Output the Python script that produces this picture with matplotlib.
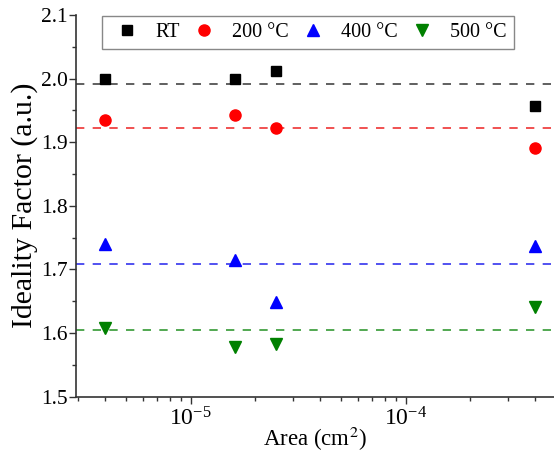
import matplotlib
matplotlib.use("Agg")
import matplotlib.pyplot as plt
from matplotlib.ticker import LogLocator, MultipleLocator, NullFormatter

plt.rcParams['font.family'] = ['Liberation Serif', 'DejaVu Serif']
plt.rcParams['mathtext.fontset'] = 'stix'

area = [4e-6, 1.6e-5, 2.5e-5, 4e-4]
labels = ['RT', '200 °C', '400 °C', '500 °C']
ideality = [
    [2.000, 2.000, 2.012, 1.957],
    [1.935, 1.942, 1.922, 1.891],
    [1.740, 1.714, 1.648, 1.737],
    [1.607, 1.578, 1.583, 1.640],
]
mean_lines = [1.992, 1.922, 1.709, 1.604]

colors = ['black', 'red', 'blue', 'green']
line_colors = ['#444444', '#ee3333', '#3333ee', '#339933']
markers = ['s', 'o', '^', 'v']
sizes = [7, 8, 9, 9]

fig = plt.figure(figsize=(5.54, 4.54), dpi=100)
ax = fig.add_axes([76 / 554, 1 - 396.5 / 454, 1 - 76 / 554, (396.5 - 15) / 454])

for i in range(4):
    ax.axhline(mean_lines[i], color=line_colors[i], ls=(0, (5, 5)), lw=1.2, zorder=1)
    ax.plot(area, ideality[i], ls='none', marker=markers[i], ms=sizes[i],
            color=colors[i], label=labels[i], zorder=3)

ax.set_xscale('log')
ax.set_xlim(2.93e-6, 4.9e-4)
ax.set_ylim(1.5, 2.1)
ax.yaxis.set_major_locator(MultipleLocator(0.1))
ax.yaxis.set_minor_locator(MultipleLocator(0.05))
ax.xaxis.set_minor_locator(LogLocator(base=10, subs=range(2, 10)))
ax.xaxis.set_minor_formatter(NullFormatter())

for s in ['top', 'right']:
    ax.spines[s].set_visible(False)
for s in ['left', 'bottom']:
    ax.spines[s].set_color('#333333')
    ax.spines[s].set_linewidth(1.2)

ax.tick_params(which='both', direction='out', color='#333333', width=1.0)
ax.tick_params(which='major', length=5)
ax.tick_params(which='minor', length=3)
ax.tick_params(axis='y', labelsize=15.5, pad=1)
ax.tick_params(axis='x', labelsize=17, pad=3)

ax.set_ylabel('Ideality Factor (a.u.)', fontsize=21.5, labelpad=2)
ax.set_xlabel('Area (cm$^2$)', fontsize=16.5, labelpad=-4)

leg = ax.legend(loc='upper left', bbox_to_anchor=(0.054, 0.997), borderaxespad=0,
                ncol=4, fontsize=14.5, handlelength=1.8, handletextpad=0.5,
                columnspacing=0.3, fancybox=False, framealpha=1,
                edgecolor='#888888', borderpad=0.35)
leg.get_frame().set_linewidth(1.0)

fig.savefig('out.png', dpi=100)
